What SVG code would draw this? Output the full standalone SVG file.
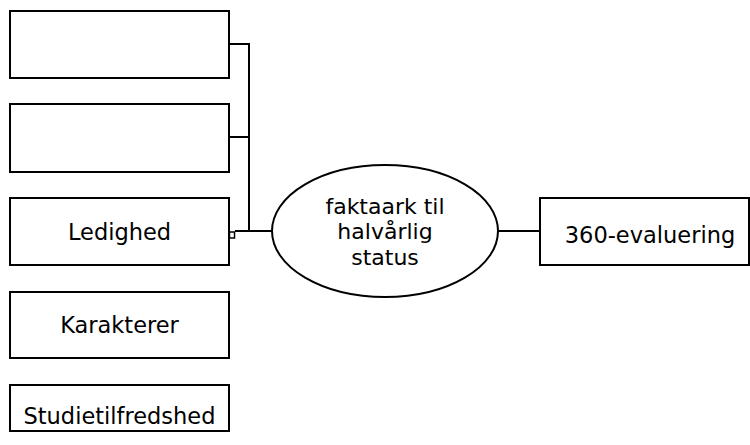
<svg xmlns="http://www.w3.org/2000/svg" width="750" height="445" viewBox="0 0 750 445">
<style>
.box{fill:#fff;stroke:#000;stroke-width:2}
.con{fill:none;stroke:#000;stroke-width:2}
text{font-family:"DejaVu Sans",sans-serif;font-size:22.5px;fill:#000;text-anchor:middle}
.c{font-size:22px}
</style>
<rect width="750" height="445" fill="#fff"/>
<g id="connectors">
<polyline class="con" points="229,44 249,44 249,231"/>
<line class="con" x1="229" y1="137" x2="249" y2="137"/>
<line class="con" x1="235" y1="231" x2="272" y2="231"/>
<rect x="229.5" y="232" width="5" height="6" fill="#fff" stroke="#000" stroke-width="1.5"/>
<line class="con" x1="498" y1="231" x2="540" y2="231"/>
</g>
<g id="n1"><rect class="box" x="10" y="11" width="219" height="67"/></g>
<g id="n2"><rect class="box" x="10" y="104" width="219" height="68"/></g>
<g id="ledighed"><rect class="box" x="10" y="198" width="219" height="67"/><text x="119.5" y="240">Ledighed</text></g>
<g id="karakterer"><rect class="box" x="10" y="292" width="219" height="66"/><text x="119.5" y="333">Karakterer</text></g>
<g id="studietilfredshed"><rect class="box" x="10" y="385" width="219" height="46"/><text x="119.5" y="424">Studietilfredshed</text></g>
<g id="center"><ellipse class="box" cx="385" cy="231" rx="113" ry="66"/><text class="c" x="385" y="214">faktaark til</text><text class="c" x="385" y="239">halvårlig</text><text class="c" x="385" y="265">status</text></g>
<g id="eval"><rect class="box" x="540" y="198" width="209" height="67"/><text x="650" y="243">360-evaluering</text></g>
</svg>
